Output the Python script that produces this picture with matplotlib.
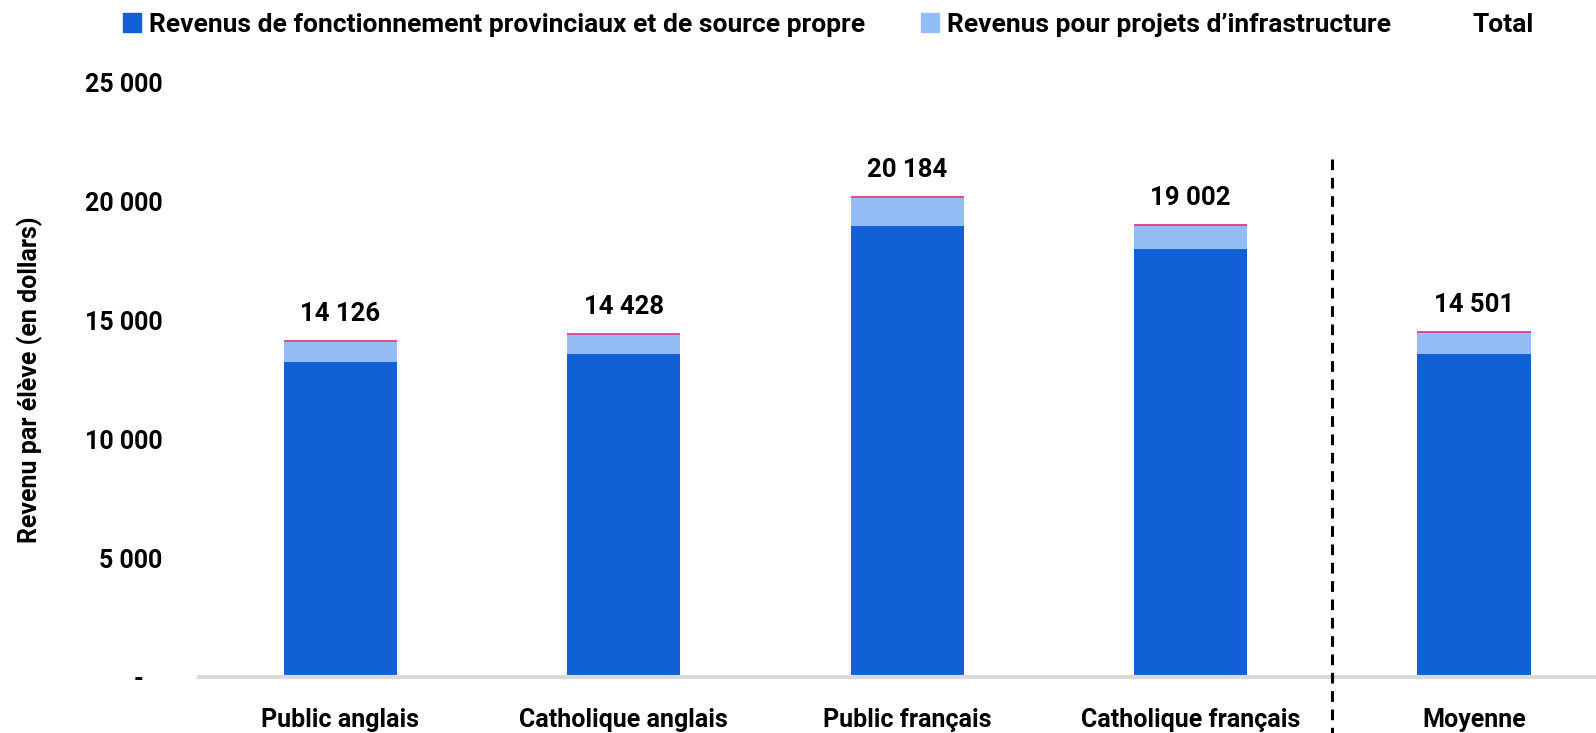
import matplotlib
matplotlib.use("Agg")
import matplotlib.pyplot as plt
from matplotlib.lines import Line2D
from matplotlib.patches import Patch

categories = ["Public anglais", "Catholique anglais", "Public français", "Catholique français", "Moyenne"]
fonctionnement = [13250, 13590, 18975, 17990, 13590]
infrastructure = [876, 838, 1209, 1012, 911]
total = [14126, 14428, 20184, 19002, 14501]
yticks = [0, 5000, 10000, 15000, 20000, 25000]
yticklabels = ["-   ", "5 000", "10 000", "15 000", "20 000", "25 000"]

plt.rcParams['font.family'] = ['Liberation Sans Narrow', 'Roboto', 'DejaVu Sans']
plt.rcParams['font.weight'] = 'bold'

dark = "#1160d6"
light = "#94bdf5"
pink = "#e8398a"

fig = plt.figure(figsize=(15.96, 7.33), dpi=100)
ax = fig.add_axes([0.1244, 0.0764, 0.8756, 0.8111])

x = list(range(len(categories)))
w = 0.4
ax.bar(x, fonctionnement, width=w, color=dark, zorder=2)
ax.bar(x, infrastructure, width=w, bottom=fonctionnement, color=light, zorder=2)
for xi, t in zip(x, total):
    ax.hlines(t, xi - w / 2, xi + w / 2, color=pink, lw=1.3, zorder=3)
    ax.annotate(f"{t:,}".replace(",", " "), (xi, t), xytext=(0, 11), textcoords="offset points",
                ha="center", va="bottom", fontsize=18.5, fontweight="bold")

ax.set_xlim(-0.5, 4.43)
ax.set_ylim(0, 25000)
ax.set_yticks(yticks)
ax.set_yticklabels(yticklabels, fontsize=18, fontweight="bold")
ax.set_xticks(x)
ax.set_xticklabels(categories, fontsize=18, fontweight="bold")
ax.tick_params(axis="both", length=0)
ax.tick_params(axis="x", pad=22)
ax.tick_params(axis="y", pad=26)
for s in ["top", "right", "left"]:
    ax.spines[s].set_visible(False)
ax.spines["bottom"].set_color("#d9d9d9")
ax.spines["bottom"].set_linewidth(3)

ax.set_ylabel("Revenu par élève (en dollars)", fontsize=18, fontweight="bold", labelpad=30)

# dashed separator
ax.plot([3.5, 3.5], [21800, -2600], ls=(0, (3.5, 2.5)), color="black", lw=2.2, clip_on=False, zorder=4)

handles = [Patch(color=dark), Patch(color=light), Line2D([], [], color="none")]
labels = ["Revenus de fonctionnement provinciaux et de source propre", "Revenus pour projets d’infrastructure", "Total"]
fig.legend(handles, labels, loc="upper center", bbox_to_anchor=(0.519, 1.015), ncol=3, frameon=False,
           prop={"size": 19, "weight": "bold"}, handlelength=0.7, handleheight=0.7, handletextpad=0.3,
           columnspacing=2.1)

fig.savefig("out.png", dpi=100)
